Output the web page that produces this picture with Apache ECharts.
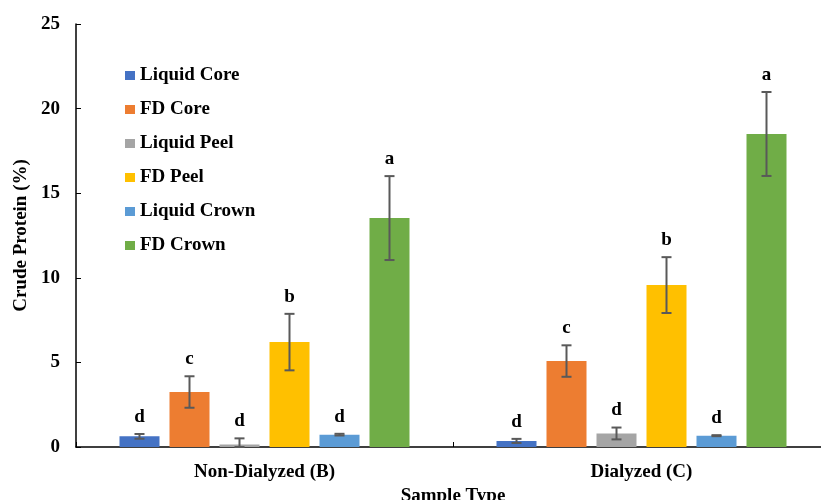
<!DOCTYPE html>
<html><head><meta charset="utf-8">
<script src="https://cdn.jsdelivr.net/npm/echarts@6/dist/echarts.min.js"></script>
<style>html,body{margin:0;padding:0;background:#fff}#c{width:821px;height:500px}</style>
</head><body><div id="c"></div>
<script>
const categories = ['Non-Dialyzed (B)', 'Dialyzed (C)'];
const seriesNames = ['Liquid Core', 'FD Core', 'Liquid Peel', 'FD Peel', 'Liquid Crown', 'FD Crown'];
const colors = ['#4472C4', '#ED7D31', '#A5A5A5', '#FFC000', '#5B9BD5', '#70AD47'];
const liquidCore = [0.63, 0.36];
const fdCore = [3.25, 5.08];
const liquidPeel = [0.15, 0.80];
const fdPeel = [6.20, 9.57];
const liquidCrown = [0.73, 0.67];
const fdCrown = [13.53, 18.5];
const errLiquidCore = [0.14, 0.12];
const errFdCore = [0.93, 0.93];
const errLiquidPeel = [0.36, 0.35];
const errFdPeel = [1.67, 1.65];
const errLiquidCrown = [0.05, 0.03];
const errFdCrown = [2.48, 2.48];
const letterLiquidCore = ['d', 'd'];
const letterFdCore = ['c', 'c'];
const letterLiquidPeel = ['d', 'd'];
const letterFdPeel = ['b', 'b'];
const letterLiquidCrown = ['d', 'd'];
const letterFdCrown = ['a', 'a'];
const yTicks = [0, 5, 10, 15, 20, 25];

const values = [liquidCore, fdCore, liquidPeel, fdPeel, liquidCrown, fdCrown];
const errors = [errLiquidCore, errFdCore, errLiquidPeel, errFdPeel, errLiquidCrown, errFdCrown];
const letters = [letterLiquidCore, letterFdCore, letterLiquidPeel, letterFdPeel, letterLiquidCrown, letterFdCrown];

const FONT = '"Liberation Serif", "Times New Roman", serif';
const BAR_W = 40, GAP = 10;
const chart = echarts.init(document.getElementById('c'), null, {renderer: 'canvas'});

const series = [];
values.forEach((v, i) => {
  series.push({
    name: seriesNames[i], type: 'bar', data: v, barWidth: BAR_W, barGap: (GAP / BAR_W * 100) + '%',
    itemStyle: {color: colors[i]}, z: 2
  });
});
values.forEach((v, i) => {
  series.push({
    name: seriesNames[i] + ' err', type: 'custom', z: 5,
    data: v.map((val, j) => [j, val, errors[i][j]]),
    renderItem: function (params, api) {
      const c = api.value(0), val = api.value(1), e = api.value(2);
      const letter = letters[i][c];
      const base = api.coord([c, val]);
      const x = base[0] + (i - 2.5) * (BAR_W + GAP);
      const yTop = api.coord([c, val + e])[1];
      const yBot = api.coord([c, Math.max(val - e, 0)])[1];
      const capW = 5;
      const st = {stroke: '#595959', lineWidth: 2};
      return {
        type: 'group', children: [
          {type: 'line', shape: {x1: x, y1: yTop, x2: x, y2: yBot}, style: st},
          {type: 'line', shape: {x1: x - capW, y1: yTop, x2: x + capW, y2: yTop}, style: st},
          {type: 'line', shape: {x1: x - capW, y1: yBot, x2: x + capW, y2: yBot}, style: st},
          {type: 'text', style: {text: letter, x: x, y: yTop - 17, align: 'center', verticalAlign: 'middle',
            font: 'bold 19px ' + FONT, fill: '#000'}}
        ]
      };
    }
  });
});

chart.setOption({
  animation: false,
  color: colors,
  grid: {left: 76, top: 24, width: 754, height: 423, containLabel: false, outerBoundsMode: 'none'},
  legend: {
    data: seriesNames, orient: 'vertical', left: 120, top: 61, icon: 'rect',
    itemWidth: 10, itemHeight: 9, itemGap: 15,
    textStyle: {fontFamily: FONT, fontWeight: 'bold', fontSize: 19, color: '#000'}
  },
  xAxis: {
    type: 'category', data: categories,
    axisLine: {lineStyle: {color: '#000', width: 1.5}},
    axisTick: {show: true, inside: true, length: 5, lineStyle: {color: '#000'}},
    axisLabel: {fontFamily: FONT, fontWeight: 'bold', fontSize: 19, color: '#000', margin: 16},
    name: 'Sample Type', nameLocation: 'middle', nameGap: 32,
    nameTextStyle: {fontFamily: FONT, fontWeight: 'bold', fontSize: 19, color: '#000'}
  },
  yAxis: {
    type: 'value', min: yTicks[0], max: yTicks[yTicks.length - 1], interval: yTicks[1] - yTicks[0],
    splitLine: {show: false},
    axisLine: {show: true, lineStyle: {color: '#000', width: 1.5}},
    axisTick: {show: true, inside: true, length: 5, lineStyle: {color: '#000'}},
    axisLabel: {fontFamily: FONT, fontWeight: 'bold', fontSize: 19, color: '#000', margin: 16},
    name: 'Crude Protein (%)', nameLocation: 'middle', nameGap: 40, nameRotate: 90,
    nameTextStyle: {fontFamily: FONT, fontWeight: 'bold', fontSize: 19, color: '#000'}
  },
  series: series
});
</script></body></html>
